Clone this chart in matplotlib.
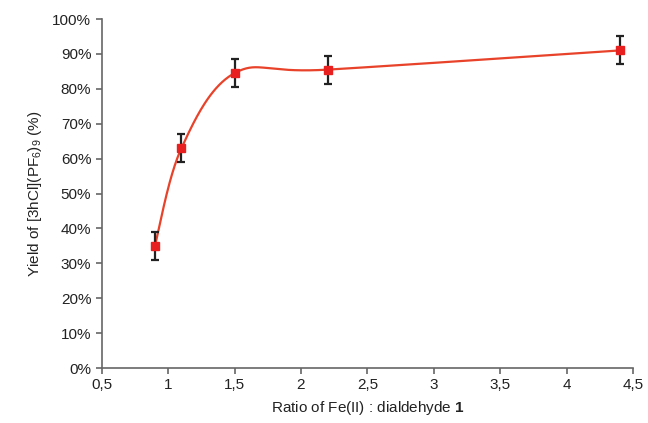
import numpy as np
import matplotlib
matplotlib.use('Agg')
import matplotlib.pyplot as plt
from matplotlib.ticker import FuncFormatter, MultipleLocator

plt.rcParams['font.family'] = ['Liberation Sans', 'DejaVu Sans']
plt.rcParams['mathtext.fontset'] = 'custom'
plt.rcParams['mathtext.rm'] = 'Liberation Sans'
plt.rcParams['mathtext.it'] = 'Liberation Sans:italic'
plt.rcParams['mathtext.bf'] = 'Liberation Sans:bold'

# data
ratio = [0.9, 1.1, 1.5, 2.2, 4.4]
yield_pct = [35, 63, 84.5, 85.5, 91]
err = [4, 4, 4, 4, 4]


def smooth_curve(xs, ys, n=40):
    # Catmull-Rom style smoothing, like a spreadsheet "smoothed line"
    xs = np.asarray(xs, float)
    ys = np.asarray(ys, float)
    px = np.concatenate([[xs[0]], xs, [xs[-1]]])
    py = np.concatenate([[ys[0]], ys, [ys[-1]]])
    out_x, out_y = [], []
    for i in range(1, len(px) - 2):
        p0, p1, p2, p3 = (np.array([px[j], py[j]]) for j in (i - 1, i, i + 1, i + 2))
        c1 = p1 + (p2 - p0) / 6
        c2 = p2 - (p3 - p1) / 6
        t = np.linspace(0, 1, n)[:, None]
        pts = ((1 - t) ** 3) * p1 + 3 * ((1 - t) ** 2) * t * c1 + 3 * (1 - t) * t ** 2 * c2 + t ** 3 * p2
        out_x.extend(pts[:, 0])
        out_y.extend(pts[:, 1])
    return np.array(out_x), np.array(out_y)


fig = plt.figure(figsize=(6.48, 4.23), dpi=100)
ax = fig.add_axes([0.157, 0.13, 0.82, 0.825])

sx, sy = smooth_curve(ratio, yield_pct)
ax.plot(sx, sy, color='#e8432a', linewidth=1.6, zorder=2)
ax.errorbar(ratio, yield_pct, yerr=err, fmt='none', ecolor='#222222',
            elinewidth=1.6, capsize=3, capthick=1.6, zorder=3)
ax.plot(ratio, yield_pct, linestyle='none', marker='s', markersize=5.5,
        color='#e8201f', zorder=4)

ax.set_xlim(0.5, 4.5)
ax.set_ylim(0, 100)
ax.xaxis.set_major_locator(MultipleLocator(0.5))
ax.yaxis.set_major_locator(MultipleLocator(10))
ax.xaxis.set_major_formatter(FuncFormatter(lambda v, p: f'{v:g}'.replace('.', ',')))
ax.yaxis.set_major_formatter(FuncFormatter(lambda v, p: f'{v:.0f}%'))

for side in ['top', 'right']:
    ax.spines[side].set_visible(False)
for side in ['left', 'bottom']:
    ax.spines[side].set_color('#666666')
    ax.spines[side].set_linewidth(1.2)
ax.tick_params(colors='#666666', labelcolor='#222222', labelsize=11,
               direction='out', length=4, width=1.2)

ax.set_xlabel(r'Ratio of Fe(II) : dialdehyde $\mathbf{1}$', fontsize=11,
              color='#222222', labelpad=5)
ax.set_ylabel(r'Yield of [3hCl](PF$_{6}$)$_{9}$ (%)', fontsize=11,
              color='#222222', labelpad=6)

fig.savefig('out.png', dpi=100)
